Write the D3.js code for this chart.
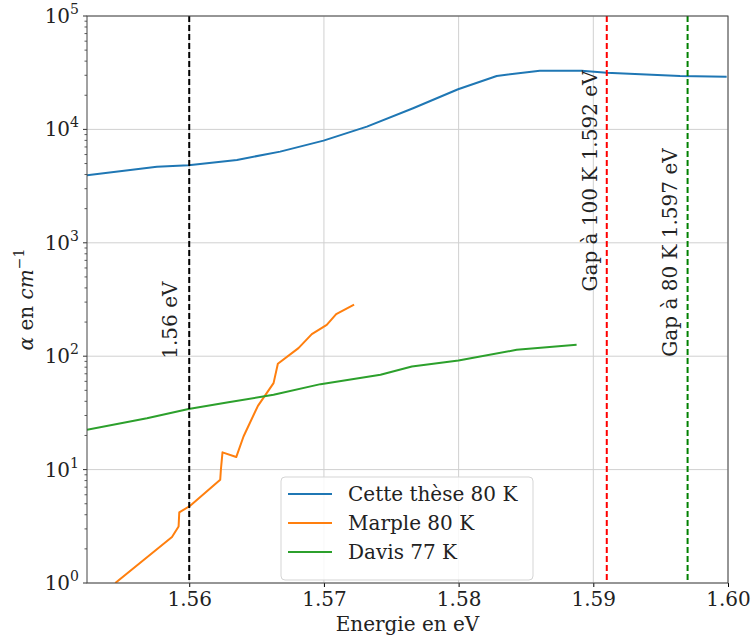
<!DOCTYPE html>
<html><head><meta charset="utf-8">
<script src="https://cdn.jsdelivr.net/npm/d3@7"></script>
<style>
body{margin:0;background:#fff;}
text{font-family:"DejaVu Serif",serif;fill:#222;}
</style></head>
<body><svg id="c" width="752" height="639"></svg>
<script>
// Data (energy in eV, absorption in cm^-1)
const theseE = [1.55241,1.55760,1.55995,1.56354,1.56675,1.56997,1.57319,1.57662,1.57996,1.58283,1.58603,1.58913,1.59099,1.59644,1.59990];
const theseA = [3945,4695,4830,5380,6370,7960,10570,15380,22600,29580,32960,32960,31620,29580,29170];
const marpleE = [1.55451,1.55872,1.55921,1.55926,1.56007,1.56230,1.56235,1.56247,1.56349,1.56403,1.56510,1.56626,1.56658,1.56811,1.56910,1.57021,1.57091,1.57224];
const marpleA = [1.0,2.54,3.15,4.19,4.80,8.13,9.97,14.2,12.9,19.6,36.5,57.9,85.7,117.8,156.6,189,235,285];
const davisE = [1.55241,1.55686,1.55995,1.56280,1.56626,1.56975,1.57420,1.57653,1.57999,1.58431,1.58876];
const davisA = [22.4,28.4,34.2,39.1,45.7,56.7,68.5,81.1,91.6,113.8,126];
const seriesNames = ["Cette thèse 80 K","Marple 80 K","Davis 77 K"];
const seriesColors = ["#1f77b4","#ff7f0e","#2ca02c"];
const vlinesE = [1.56,1.591,1.597];
const vlineColors = ["black","red","green"];
const vlineLabels = ["1.56 eV","Gap à 100 K 1.592 eV","Gap à 80 K 1.597 eV"];
const vlineLabelE = [1.55911,1.59030,1.59619];
const vlineLabelA = [208, 3508, 821];
const xTicks = [1.56,1.57,1.58,1.59,1.60];
const yTicks = [1,10,100,1000,10000,100000];

const svg = d3.select("#c");
const L=87,R=728,T=16,B=583;
const x = d3.scaleLinear().domain([1.55241,1.60]).range([L,R]);
const y = d3.scaleLog().domain([1,1e5]).range([B,T]);

// grid
const g = svg.append("g");
g.selectAll(".gx").data(xTicks).enter().append("line")
 .attr("x1",d=>x(d)).attr("x2",d=>x(d)).attr("y1",T).attr("y2",B)
 .attr("stroke","#d0d0d0").attr("stroke-width",1);
g.selectAll(".gy").data(yTicks).enter().append("line")
 .attr("x1",L).attr("x2",R).attr("y1",d=>y(d)).attr("y2",d=>y(d))
 .attr("stroke","#d0d0d0").attr("stroke-width",1);

svg.append("clipPath").attr("id","clp").append("rect")
 .attr("x",L).attr("y",T).attr("width",R-L).attr("height",B-T);
const plot = svg.append("g").attr("clip-path","url(#clp)");

const line = d3.line().x(d=>x(d[0])).y(d=>y(d[1]));
const series = [[theseE,theseA],[marpleE,marpleA],[davisE,davisA]];
series.forEach((s,i)=>{
  plot.append("path").datum(d3.zip(s[0],s[1])).attr("d",line)
   .attr("fill","none").attr("stroke",seriesColors[i]).attr("stroke-width",2)
   .attr("stroke-linejoin","round");
});

// vertical dashed lines
vlinesE.forEach((e,i)=>{
  plot.append("line").attr("x1",x(e)).attr("x2",x(e)).attr("y1",T).attr("y2",B)
   .attr("stroke",vlineColors[i]).attr("stroke-width",2).attr("stroke-dasharray","6,3");
});
vlineLabels.forEach((t,i)=>{
  const xx = x(vlineLabelE[i]), yy = y(vlineLabelA[i]);
  svg.append("text").attr("transform",`translate(${xx},${yy}) rotate(-90)`)
   .attr("text-anchor","middle").attr("font-size",20).text(t);
});

// axes
const xAxis = d3.axisBottom(x).tickValues(xTicks).tickFormat(d3.format(".2f")).tickSize(4).tickPadding(5);
const xa = svg.append("g").attr("transform",`translate(0,${B})`).call(xAxis);
xa.select(".domain").remove();
xa.selectAll("text").attr("font-size",20).attr("font-family","DejaVu Serif").attr("fill","#222");

const ya = svg.append("g").attr("transform",`translate(${L},0)`);
const minors = [];
for(let p=0;p<5;p++) for(let m=2;m<10;m++) minors.push(m*Math.pow(10,p));
ya.selectAll(".mn").data(minors).enter().append("line")
 .attr("x1",-2.5).attr("x2",0).attr("y1",d=>y(d)).attr("y2",d=>y(d)).attr("stroke","#333").attr("stroke-width",0.8);
ya.selectAll(".mj").data(yTicks).enter().append("line")
 .attr("x1",-4).attr("x2",0).attr("y1",d=>y(d)).attr("y2",d=>y(d)).attr("stroke","#333").attr("stroke-width",1);
const yl = ya.selectAll(".yl").data(yTicks).enter().append("text")
 .attr("x",-8).attr("y",d=>y(d)+7).attr("text-anchor","end").attr("font-size",20);
yl.append("tspan").text("10");
yl.append("tspan").attr("dy",-9).attr("font-size",14).text(d=>Math.round(Math.log10(d)));

// spines
svg.append("rect").attr("x",L).attr("y",T).attr("width",R-L).attr("height",B-T)
 .attr("fill","none").attr("stroke","#444").attr("stroke-width",1);

// axis labels
svg.append("text").attr("x",(L+R)/2).attr("y",631).attr("text-anchor","middle")
 .attr("font-size",20).text("Energie en eV");
const ylab = svg.append("text").attr("transform",`translate(33,${(T+B)/2}) rotate(-90)`)
 .attr("text-anchor","middle").attr("font-size",20);
ylab.append("tspan").attr("font-style","italic").text("α");
ylab.append("tspan").text(" en ");
ylab.append("tspan").attr("font-style","italic").text("cm");
ylab.append("tspan").attr("dy",-9).attr("font-size",14).text("−1");

// legend
const lg = svg.append("g");
lg.append("rect").attr("x",281).attr("y",477).attr("width",252).attr("height",103)
 .attr("rx",4).attr("fill","white").attr("fill-opacity",0.85).attr("stroke","#d5d5d5");
seriesNames.forEach((n,i)=>{
  const yy = 494 + i*29;
  lg.append("line").attr("x1",288).attr("x2",332).attr("y1",yy).attr("y2",yy)
   .attr("stroke",seriesColors[i]).attr("stroke-width",2);
  lg.append("text").attr("x",348).attr("y",yy+7).attr("font-size",20).text(n);
});
</script></body></html>
